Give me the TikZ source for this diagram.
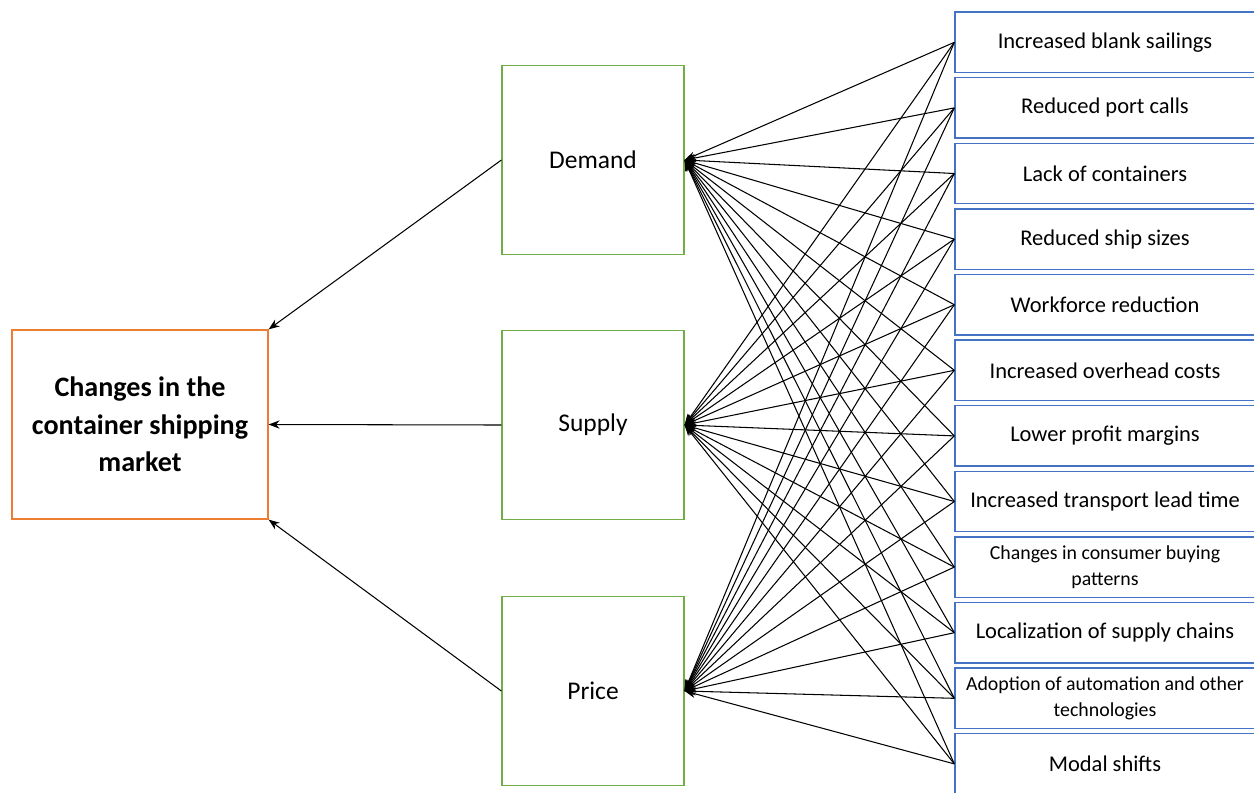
\documentclass[tikz,border=0pt]{standalone}
\usepackage{fontspec}
\setmainfont{Carlito}
\usetikzlibrary{arrows.meta}
\definecolor{mktorange}{HTML}{ED7D31}
\definecolor{drvgreen}{HTML}{70AD47}
\definecolor{effblue}{HTML}{4472C4}
\tikzset{
  >={Stealth[length=2.2mm]},
  mktbox/.style={draw=mktorange,line width=0.7pt,minimum width=5.12cm,
    minimum height=3.78cm,align=center,inner sep=2pt,
    font=\fontsize{16}{21.3}\selectfont\bfseries},
  drvbox/.style={draw=drvgreen,line width=0.7pt,minimum width=3.64cm,
    minimum height=3.78cm,font=\fontsize{14.5}{17}\selectfont},
  effbox/.style={draw=effblue,line width=0.8pt,minimum width=6cm,
    minimum height=1.21cm,align=center,inner sep=1pt,
    font=\fontsize{12.8}{15}\selectfont},
  effsmall/.style={font=\fontsize{11.3}{14.8}\selectfont},
  link/.style={->,line width=0.6pt,black},
}
\begin{document}
\begin{tikzpicture}[x=0.02cm,y=-0.02cm]
  \useasboundingbox (0,0) rectangle (1254,792);
  % market and its drivers
  \node[mktbox] (mkt) at (140,424.5) {Changes in the\\container shipping\\market};
  \node[drvbox] (dem) at (593,160) {Demand};
  \node[drvbox] (sup) at (593,425) {Supply};
  \node[drvbox] (pri) at (593,691) {Price};
  % effects
  \node[effbox] (e1) at (1105,42.3) {Increased blank sailings};
  \node[effbox] (e2) at (1105,107.9) {Reduced port calls};
  \node[effbox] (e3) at (1105,173.5) {Lack of containers};
  \node[effbox] (e4) at (1105,239.1) {Reduced ship sizes};
  \node[effbox] (e5) at (1105,304.7) {Workforce reduction};
  \node[effbox] (e6) at (1105,370.3) {Increased overhead costs};
  \node[effbox] (e7) at (1105,435.9) {Lower profit margins};
  \node[effbox] (e8) at (1105,501.5) {Increased transport lead time};
  \node[effbox,effsmall] (e9) at (1105,567.1) {Changes in consumer buying\\patterns};
  \node[effbox] (e10) at (1105,632.7) {Localization of supply chains};
  \node[effbox,effsmall] (e11) at (1105,698.3) {Adoption of automation and other\\technologies};
  \node[effbox] (e12) at (1105,763.9) {Modal shifts};
  \draw[link] (dem.west) -- (mkt.north east);
  \draw[link] (sup.west) -- (mkt.east);
  \draw[link] (pri.west) -- (mkt.south east);
  \foreach \i in {1,...,12}
    \foreach \d in {dem,sup,pri}
      \draw[link] (e\i.west) -- (\d.east);
\end{tikzpicture}
\end{document}
